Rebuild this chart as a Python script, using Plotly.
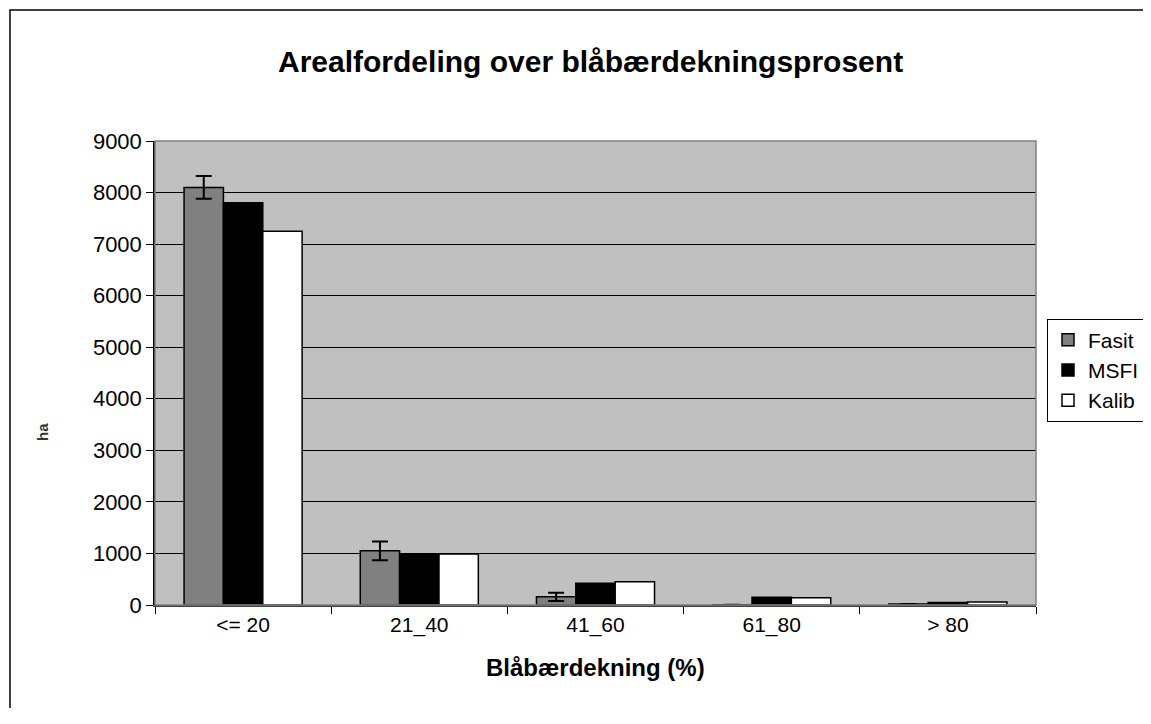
import plotly.graph_objects as go

kategorier = ['<= 20', '21_40', '41_60', '61_80', '> 80']
fasit = [8100, 1050, 160, 5, 20]
fasit_feil = [220, 180, 80, 0, 0]
msfi = [7800, 990, 420, 150, 50]
kalib = [7250, 990, 450, 140, 60]

fig = go.Figure()
fig.add_trace(go.Bar(x=kategorier, y=fasit, name='Fasit',
                     marker=dict(color='#808080', line=dict(color='black', width=1.5)),
                     error_y=dict(type='data', array=fasit_feil, visible=True,
                                  color='black', thickness=2, width=8)))
fig.add_trace(go.Bar(x=kategorier, y=msfi, name='MSFI',
                     marker=dict(color='black', line=dict(color='black', width=1.5))))
fig.add_trace(go.Bar(x=kategorier, y=kalib, name='Kalib',
                     marker=dict(color='white', line=dict(color='black', width=1.5))))

# siden har 8px marg rundt figuren, så størrelsen trekkes fra
W, H = 1135, 700
fig.update_layout(
    width=W, height=H,
    margin=dict(l=147, r=W - 1028, t=133, b=H - 597),
    paper_bgcolor='white', plot_bgcolor='#C0C0C0',
    font=dict(family='Liberation Sans, Arial', size=21, color='black'),
    barmode='group', bargap=0.33, bargroupgap=0,
    showlegend=True,
    legend=dict(xref='container', yref='container',
                x=(1047 - 8) / W, y=(H - 362) / H, xanchor='left', yanchor='middle',
                bgcolor='white', bordercolor='black', borderwidth=1,
                font=dict(size=21), itemwidth=30, tracegroupgap=0),
)

fig.update_yaxes(range=[0, 9000], dtick=1000, showgrid=True, gridcolor='black', gridwidth=1,
                 showline=True, linecolor='black', linewidth=1.5,
                 ticks='outside', ticklen=7, tickcolor='black', zeroline=False,
                 tickfont=dict(size=22))
fig.update_xaxes(tickson='boundaries', ticks='outside', ticklen=7, tickcolor='black',
                 showline=True, linecolor='#404040', linewidth=1.5,
                 tickfont=dict(size=21))

# kant rundt plottområdet og rundt hele figuren
fig.add_shape(type='rect', xref='paper', yref='paper', x0=0, x1=1, y0=0, y1=1,
              line=dict(color='#808080', width=1.5), layer='above')
fig.add_shape(type='rect', xref='paper', yref='paper',
              x0=-0.1646, x1=1.25, y0=-0.5, y1=1.2823,
              line=dict(color='black', width=1.5))

fig.add_annotation(text='<b>Arealfordeling over blåbærdekningsprosent</b>',
                   xref='paper', yref='paper', x=0.494, y=(605 - 62) / 464,
                   showarrow=False, font=dict(size=30), xanchor='center', yanchor='middle')
fig.add_annotation(text='<b>Blåbærdekning (%)</b>',
                   xref='paper', yref='paper', x=0.5, y=(605 - 667) / 464,
                   showarrow=False, font=dict(size=24), xanchor='center', yanchor='middle')
fig.add_annotation(text='<b>ha</b>', textangle=-90,
                   xref='paper', yref='paper', x=(42 - 155) / 881, y=(605 - 432) / 464,
                   showarrow=False, font=dict(size=15, color='#333333'),
                   xanchor='center', yanchor='middle')

fig.write_html('out.html')
